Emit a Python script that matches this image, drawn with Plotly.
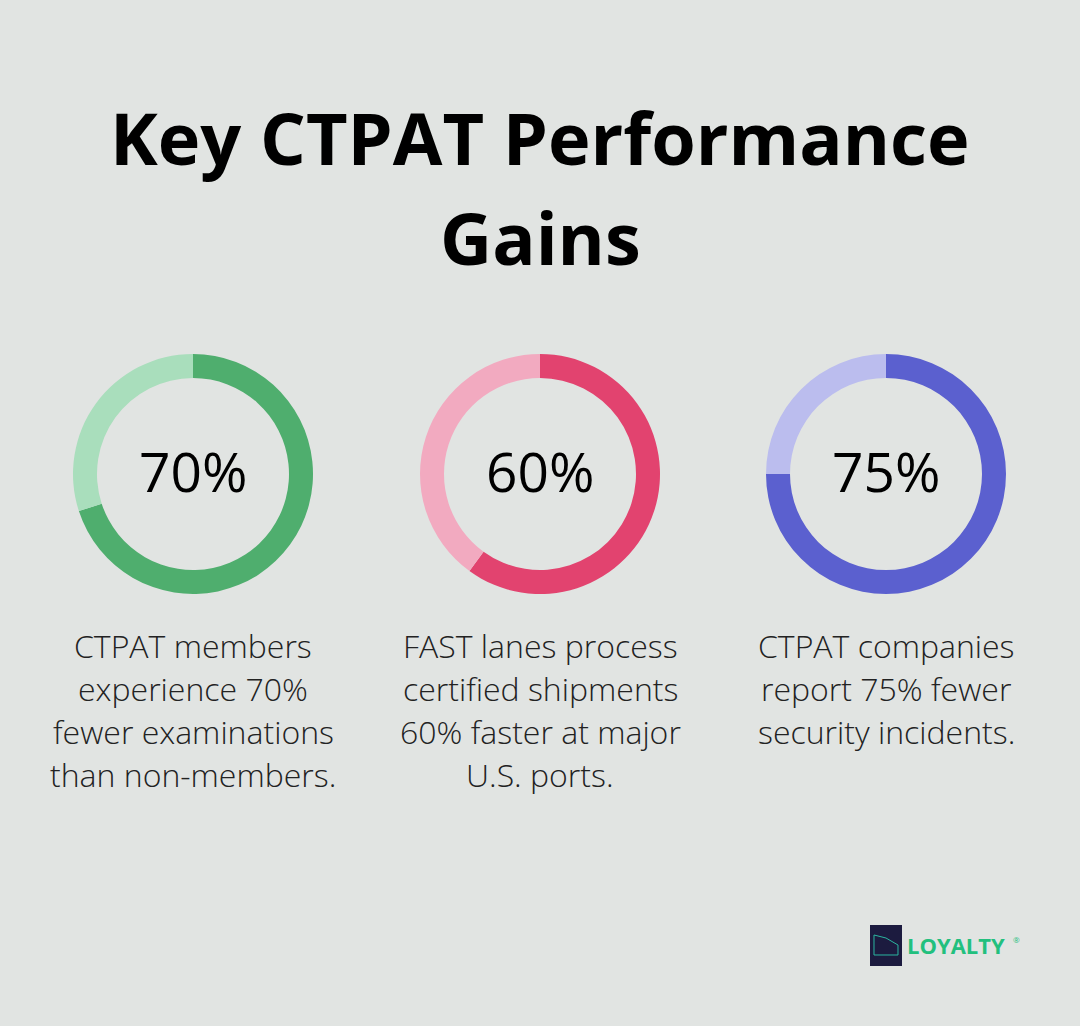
import plotly.graph_objects as go

W, H = 1080, 1026

# Data
percentages = [70, 60, 75]
labels = ["70%", "60%", "75%"]
descriptions = [
    ["CTPAT members", "experience 70%", "fewer examinations", "than non-members."],
    ["FAST lanes process", "certified shipments", "60% faster at major", "U.S. ports."],
    ["CTPAT companies", "report 75% fewer", "security incidents."],
]
dark_colors = ["#4FAE6E", "#E2436F", "#5B60CF"]
light_colors = ["#A9DEBC", "#F2AAC0", "#BBBDEE"]
title_lines = ["Key CTPAT Performance", "Gains"]

centers_x = [193, 540, 886]
center_y = 474
R = 120
bg = "#E1E4E2"

fig = go.Figure()

for i, p in enumerate(percentages):
    cx = centers_x[i]
    fig.add_trace(go.Pie(
        values=[p, 100 - p],
        labels=["value", "rest"],
        hole=0.80,
        sort=False,
        direction="clockwise",
        rotation=0,
        marker=dict(colors=[dark_colors[i], light_colors[i]], line=dict(width=0)),
        textinfo="none",
        hoverinfo="skip",
        showlegend=False,
        domain=dict(
            x=[(cx - R) / W, (cx + R) / W],
            y=[(H - (center_y + R)) / H, (H - (center_y - R)) / H],
        ),
    ))
    fig.add_annotation(
        x=cx / W, y=1 - (center_y - 3) / H, xref="paper", yref="paper",
        text=labels[i], showarrow=False,
        font=dict(family="Open Sans", size=55, color="#000000"),
        xanchor="center", yanchor="middle",
    )
    for k, line in enumerate(descriptions[i]):
        fig.add_annotation(
            x=cx / W, y=1 - (645 + 43.3 * k) / H, xref="paper", yref="paper",
            text=line, showarrow=False, align="center",
            font=dict(family="Open Sans", size=32, color="#222222", weight=300),
            xanchor="center", yanchor="middle",
        )

for k, line in enumerate(title_lines):
    fig.add_annotation(
        x=0.5, y=1 - (137 + 100 * k) / H, xref="paper", yref="paper",
        text="<b>" + line + "</b>", showarrow=False, align="center",
        font=dict(family="Open Sans", size=72, color="#000000"),
        xanchor="center", yanchor="middle",
    )

# Logo
fig.add_shape(type="rect", xref="paper", yref="paper",
              x0=870 / W, x1=902 / W, y0=1 - 966 / H, y1=1 - 925 / H,
              fillcolor="#1C1B3F", line=dict(width=0))
fig.add_shape(type="path", xref="paper", yref="paper",
              path=" ".join([
                  "M %f,%f" % (874 / W, 1 - 955 / H),
                  "L %f,%f" % (874 / W, 1 - 935 / H),
                  "L %f,%f" % (886 / W, 1 - 938 / H),
                  "L %f,%f" % (898 / W, 1 - 945 / H),
                  "L %f,%f" % (898 / W, 1 - 955 / H),
                  "Z",
              ]),
              line=dict(color="#2BB6A0", width=1), fillcolor="rgba(0,0,0,0)")
fig.add_annotation(
    x=905 / W, y=1 - 945 / H, xref="paper", yref="paper",
    text="<b>LOYALTY</b>", showarrow=False,
    font=dict(family="Open Sans", size=22, color="#22C07E", weight=800),
    xanchor="left", yanchor="middle",
)
fig.add_annotation(
    x=1011 / W, y=1 - 939 / H, xref="paper", yref="paper",
    text="®", showarrow=False,
    font=dict(family="Open Sans", size=8, color="#22C07E"),
    xanchor="left", yanchor="middle",
)

fig.update_layout(
    width=W, height=H,
    margin=dict(l=0, r=0, t=0, b=0),
    paper_bgcolor=bg, plot_bgcolor=bg,
)

fig.write_html("out.html")
